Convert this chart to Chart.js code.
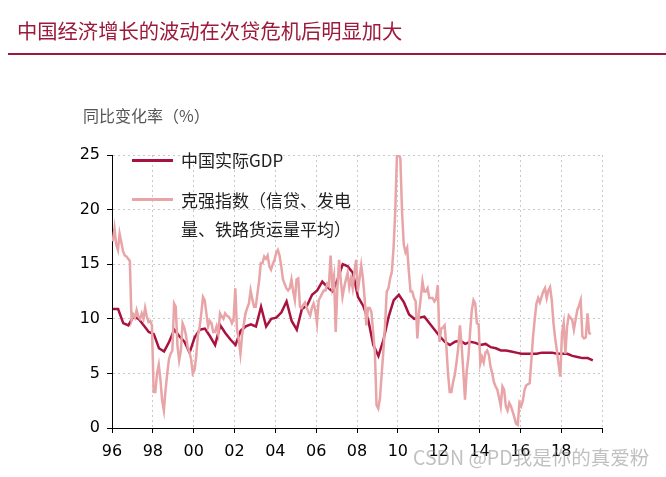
<!DOCTYPE html>
<html><head><meta charset="utf-8">
<script src="https://cdn.jsdelivr.net/npm/chart.js@4"></script>
<style>
html,body{margin:0;padding:0;background:#fff;}
#wrap{position:relative;width:666px;height:477px;overflow:hidden;font-family:"Noto Sans CJK SC","Noto Sans",sans-serif;}
#title{position:absolute;left:17px;top:15px;font-size:20.3px;color:#9c1a3b;white-space:nowrap;line-height:30px;}
#rule{position:absolute;left:8px;right:0;top:53px;height:2px;background:#9c1a3b;}
#ylab{position:absolute;left:83px;top:103px;font-size:16px;color:#555;line-height:24px;white-space:nowrap;}
#c{position:absolute;left:0;top:0;}
.lg{position:absolute;font-size:17px;color:#222;line-height:28px;white-space:nowrap;}
.sw{position:absolute;width:41px;height:3px;}
#wm{position:absolute;left:413px;top:442px;font-size:19.5px;color:rgba(140,140,140,0.55);white-space:nowrap;}
</style></head>
<body>
<div id="wrap">
<canvas id="c" width="666" height="477"></canvas>
<div id="title">中国经济增长的波动在次贷危机后明显加大</div>
<div id="rule"></div>
<div id="ylab">同比变化率（%）</div>
<div class="sw" id="sw1" style="left:132px;top:159px;"></div>
<div class="lg" id="lg1" style="left:181px;top:146px;"></div>
<div class="sw" id="sw2" style="left:132px;top:198px;"></div>
<div class="lg" id="lg2" style="left:181px;top:186px;"></div>
<div class="lg" id="lg3" style="left:181px;top:215px;"></div>
<div id="wm">CSDN @PD我是你的真爱粉</div>
</div>
<script>
// ---- data ----
const seriesNames = ["中国实际GDP", "克强指数（信贷、发电量、铁路货运量平均）"];
const legendLines2 = ["克强指数（信贷、发电", "量、铁路货运量平均）"];
const xTickYears = [1996,1998,2000,2002,2004,2006,2008,2010,2012,2014,2016,2018,2020];
const yTicks = [0,5,10,15,20,25];
// GDP, quarterly, starting 1996Q1
const gdpStartYear = 1996.05;
const gdpValues = [
 10.9,10.9,9.6,9.4,
 10.2,10.0,9.4,8.8,
 8.6,7.3,7.0,7.9,
 9.0,8.4,7.9,6.9,
 8.3,9.0,9.1,8.4,
 7.6,9.4,8.7,8.1,
 7.6,8.9,9.3,9.5,
 9.3,11.1,9.3,10.0,
 10.1,10.6,11.6,9.8,
 9.0,10.9,11.2,12.2,
 12.6,13.4,12.9,12.5,
 13.6,15.0,14.8,14.2,
 12.0,11.2,9.9,7.6,
 6.6,8.1,10.2,11.7,
 12.2,11.5,10.4,10.0,
 10.1,10.2,9.6,9.0,
 8.4,7.9,7.6,7.9,
 8.0,7.7,7.9,7.8,
 7.6,7.7,7.4,7.3,
 7.1,7.1,7.0,6.9,
 6.8,6.8,6.8,6.8,
 6.9,6.9,6.9,6.8,
 6.8,6.8,6.6,6.5,
 6.4,6.4,6.2
];
// Keqiang index, monthly, starting 1996-01
const kqStartYear = 1996.04;
const kqValues = [
 17.1,18.3,16.8,16.3,17.8,17.0,16.2,15.8,15.7,15.5,15.3,9.9,   // 1996
 10.4,10.1,10.8,10.2,10.0,10.5,10.0,11.0,10.2,9.7,9.8,9.4,     // 1997
 3.3,3.3,5.0,5.8,4.4,2.5,1.6,3.5,5.0,6.3,6.8,7.1,              // 1998
 11.4,11.1,7.5,6.2,7.1,9.6,9.2,8.5,7.4,7.0,6.3,5.0,            // 1999
 5.3,6.5,8.5,9.2,10.5,12.0,11.7,10.5,9.3,9.8,9.6,8.8,          // 2000
 8.8,9.3,8.6,10.5,10.2,10.0,10.5,10.3,10.2,10.0,9.6,10.0,      // 2001
 12.8,9.0,8.1,6.8,8.5,9.5,10.5,11.0,11.4,12.6,11.8,11.1,       // 2002
 11.1,12.3,13.5,15.1,15.1,15.7,15.5,15.8,14.8,14.5,15.0,15.4,  // 2003
 16.0,16.3,15.8,14.8,13.6,13.2,12.8,12.6,12.8,13.6,12.5,11.7,  // 2004
 13.6,13.7,11.1,11.0,11.3,11.5,11.0,10.6,10.3,11.0,11.4,10.8,  // 2005
 9.6,11.7,12.0,12.3,12.6,12.6,13.2,13.0,15.8,13.0,13.9,8.8,    // 2006
 12.9,15.4,13.5,12.0,12.9,13.6,14.2,12.9,13.7,12.8,14.3,15.4,  // 2007
 12.5,13.7,14.9,13.7,11.9,9.4,11.0,11.0,10.6,8.8,7.0,2.1,      // 2008
 1.8,2.7,4.9,7.0,9.4,12.5,12.8,13.7,14.3,16.5,19.8,25.0,       // 2009
 25.1,24.7,19.8,16.8,16.1,16.5,14.3,12.5,12.5,11.9,11.6,8.2,   // 2010
 10.6,11.9,13.4,12.5,12.5,12.8,11.9,11.9,11.9,11.6,11.8,13.1,  // 2011
 7.9,9.1,9.2,9.4,7.6,5.0,3.3,3.3,4.2,4.9,6.0,7.3,              // 2012
 9.4,7.6,5.2,2.6,5.2,6.5,8.8,10.8,11.7,11.4,9.6,9.5,           // 2013
 5.9,6.5,6.0,6.9,7.1,6.7,5.6,5.0,4.2,3.8,3.5,2.8,              // 2014
 2.0,3.8,3.5,2.0,1.6,2.3,2.0,1.5,1.0,0.4,0.3,2.3,              // 2015
 2.0,2.5,3.5,3.9,4.0,4.1,6.2,8.4,10.0,11.4,11.9,11.5,          // 2016
 12.0,12.5,12.8,11.9,12.6,12.9,11.7,9.6,8.2,7.1,5.8,4.7,       // 2017
 8.7,9.6,6.8,9.3,10.3,10.1,9.9,9.0,9.9,10.8,11.2,11.7,         // 2018
 8.4,8.2,8.3,10.5,8.7,8.6                                      // 2019
];

const GDP_COLOR = '#a8123e';
const KQ_COLOR = '#e8a4a7';

document.getElementById('lg1').textContent = seriesNames[0];
document.getElementById('lg2').textContent = legendLines2[0];
document.getElementById('lg3').textContent = legendLines2[1];
document.getElementById('sw1').style.background = GDP_COLOR;
document.getElementById('sw2').style.background = KQ_COLOR;

const gdpData = gdpValues.map((v,i)=>({x: gdpStartYear + i*0.25, y: v}));
const kqData = kqValues.map((v,i)=>({x: kqStartYear + i/12, y: v}));

const tickFont = {family: '"DejaVu Sans", Verdana, sans-serif', size: 16};

new Chart(document.getElementById('c'), {
  type: 'line',
  data: {
    datasets: [
      {label: seriesNames[1], data: kqData, borderColor: KQ_COLOR, borderWidth: 2.5, pointRadius: 0, tension: 0, fill: false},
      {label: seriesNames[0], data: gdpData, borderColor: GDP_COLOR, borderWidth: 2.5, pointRadius: 0, tension: 0, fill: false}
    ]
  },
  options: {
    responsive: false,
    animation: false,
    events: [],
    layout: {padding: {left: 62, top: 155, right: 64, bottom: 15}},
    plugins: {legend: {display: false}, tooltip: {enabled: false}, title: {display: false}},
    scales: {
      x: {
        type: 'linear', min: xTickYears[0], max: xTickYears[xTickYears.length-1],
        afterFit: s => { s.height = 34; },
        afterBuildTicks: s => { s.ticks = xTickYears.map(v => ({value: v})); },
        ticks: {
          autoSkip: false, maxRotation: 0, padding: 9, color: '#000', font: tickFont,
          callback: v => v === 2020 ? '' : String(v % 100).padStart(2, '0')
        },
        grid: {color: '#c9c9c9', lineWidth: 1, drawTicks: true, tickLength: 5, tickColor: '#000', tickWidth: 1},
        border: {display: true, color: '#000', width: 1, dash: [2, 3]}
      },
      y: {
        min: 0, max: 25,
        afterFit: s => { s.width = 50; },
        afterBuildTicks: s => { s.ticks = yTicks.map(v => ({value: v})); },
        ticks: {padding: 7, color: '#000', font: tickFont},
        grid: {color: '#c9c9c9', lineWidth: 1, drawTicks: true, tickLength: 5, tickColor: '#000', tickWidth: 1},
        border: {display: true, color: '#000', width: 1, dash: [2, 3]}
      }
    }
  }
});
</script>
</body></html>
